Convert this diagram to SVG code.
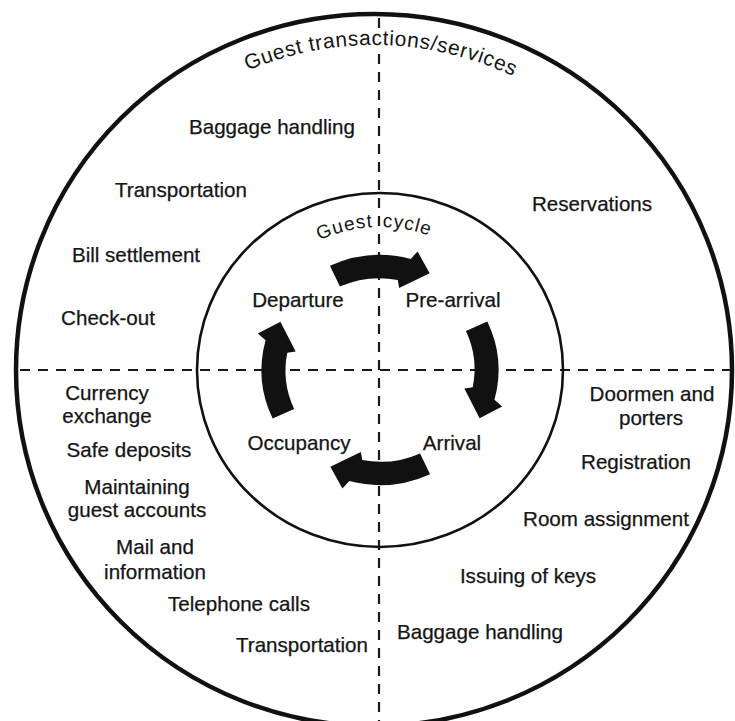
<svg xmlns="http://www.w3.org/2000/svg" width="735" height="721" viewBox="0 0 735 721">
  <style>
    .lbl { font-family: "Liberation Sans", Arial, Helvetica, sans-serif; font-size: 20.6px; fill: #151515; stroke: #151515; stroke-width: 0.25; text-anchor: middle; }
    .arc { font-family: "Liberation Sans", Arial, Helvetica, sans-serif; fill: #151515; }
    .halo { stroke: #ffffff; stroke-width: 5; paint-order: stroke; stroke-linejoin: round; }
    .dash-h { stroke: #1a1a1a; stroke-width: 1.8; stroke-dasharray: 10 8; fill: none; }
    .dash-v { stroke: #1a1a1a; stroke-width: 2.2; stroke-dasharray: 10 8; fill: none; }
    .ring { fill: none; stroke: #111; }
    .cyc { fill: #111; }
  </style>
  <defs>
    <!-- baseline arcs for the curved titles -->
    <path id="outerArc" d="M 49,370 A 325 325 0 0 1 699,370"/>
    <path id="innerArc" d="M 237,370 A 143 143 0 0 1 523,370"/>
    <!-- one thick curved arrow of the guest cycle, drawn at the top position -->
    <path id="cycleArrow" d="M 331.4,265.8 A 115 115 0 0 1 409.8,258.9 L 416.5,251.4 L 428.2,273.3 L 398.6,288.1 L 397.2,280.0 A 92 92 0 0 0 341.1,286.6 Z"/>
  </defs>

  <rect width="735" height="721" fill="#ffffff"/>

  <!-- quadrant dividers and rings -->
  <g id="connectors">
    <line class="dash-h" x1="20" y1="370" x2="730" y2="370"/>
    <line class="dash-v" x1="379" y1="18" x2="379" y2="721"/>
    <ellipse id="outer-ring" class="ring" cx="374" cy="370" rx="358" ry="356" stroke-width="4.5"/>
    <ellipse id="inner-ring" class="ring" cx="380" cy="370" rx="183" ry="177" stroke-width="2.6"/>
    <g id="cycle-arrows" transform="translate(380,370) scale(1.03,1) translate(-380,-370)">
      <use href="#cycleArrow" class="cyc"/>
      <use href="#cycleArrow" class="cyc" transform="rotate(90 380 370)"/>
      <use href="#cycleArrow" class="cyc" transform="rotate(180 380 370)"/>
      <use href="#cycleArrow" class="cyc" transform="rotate(270 380 370)"/>
    </g>
  </g>

  <!-- curved titles -->
  <g id="title-services">
    <text class="arc halo" font-size="21" letter-spacing="0.6" text-anchor="middle"><textPath href="#outerArc" startOffset="50.7%">Guest transactions/services</textPath></text>
  </g>
  <g id="title-cycle">
    <text class="arc halo" font-size="19" letter-spacing="1" word-spacing="3"><textPath href="#innerArc" startOffset="162">Guest cycle</textPath></text>
  </g>

  <!-- guest cycle stages -->
  <g id="stage-departure"><text class="lbl" x="298" y="307">Departure</text></g>
  <g id="stage-prearrival"><text class="lbl" x="453" y="307">Pre-arrival</text></g>
  <g id="stage-arrival"><text class="lbl" x="452" y="450">Arrival</text></g>
  <g id="stage-occupancy"><text class="lbl" x="299" y="450">Occupancy</text></g>

  <!-- departure services (upper left) -->
  <g id="svc-baggage-out"><text class="lbl" x="272" y="134">Baggage handling</text></g>
  <g id="svc-transport-out"><text class="lbl" x="181" y="197">Transportation</text></g>
  <g id="svc-bill"><text class="lbl" x="136" y="262">Bill settlement</text></g>
  <g id="svc-checkout"><text class="lbl" x="108" y="325">Check-out</text></g>

  <!-- pre-arrival services (upper right) -->
  <g id="svc-reservations"><text class="lbl" x="592" y="211">Reservations</text></g>

  <!-- arrival services (lower right) -->
  <g id="svc-doormen"><text class="lbl" x="652" y="401">Doormen and</text><text class="lbl" x="651" y="425">porters</text></g>
  <g id="svc-registration"><text class="lbl" x="636" y="469">Registration</text></g>
  <g id="svc-room"><text class="lbl" x="606" y="526">Room assignment</text></g>
  <g id="svc-keys"><text class="lbl" x="528" y="583">Issuing of keys</text></g>
  <g id="svc-baggage-in"><text class="lbl" x="480" y="639">Baggage handling</text></g>

  <!-- occupancy services (lower left) -->
  <g id="svc-currency"><text class="lbl" x="107" y="400">Currency</text><text class="lbl" x="107" y="423">exchange</text></g>
  <g id="svc-safe"><text class="lbl" x="129" y="457">Safe deposits</text></g>
  <g id="svc-accounts"><text class="lbl" x="137" y="494">Maintaining</text><text class="lbl" x="137" y="517">guest accounts</text></g>
  <g id="svc-mail"><text class="lbl" x="155" y="554">Mail and</text><text class="lbl" x="155" y="579">information</text></g>
  <g id="svc-telephone"><text class="lbl" x="239" y="611">Telephone calls</text></g>
  <g id="svc-transport-in"><text class="lbl" x="302" y="652">Transportation</text></g>
</svg>
